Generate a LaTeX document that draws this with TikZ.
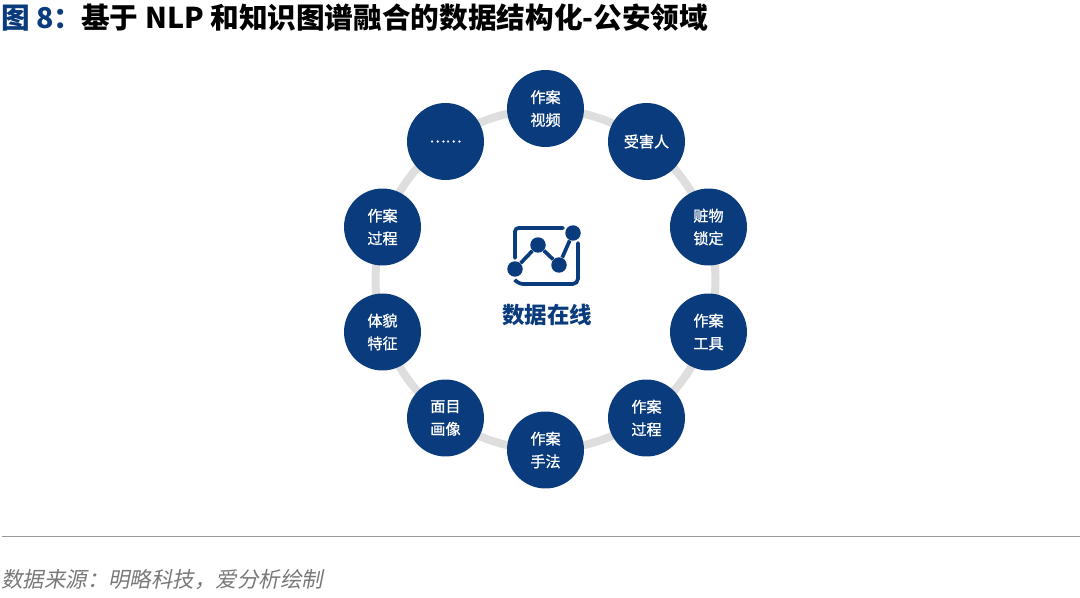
\documentclass[tikz,border=0pt]{standalone}
\usepackage{fontspec}
\usepackage{xcolor}
\usepackage{tikz}
\usetikzlibrary{positioning,calc}
\setmainfont{Noto Sans CJK SC}
\newfontfamily\mediumfont[FakeBold=1]{Noto Sans CJK SC}
\newfontfamily\slantfont[FakeSlant=0.2]{Noto Sans CJK SC}
\definecolor{accentnavy}{RGB}{10,59,124}
\definecolor{ringgray}{RGB}{222,222,222}
\definecolor{notegray}{RGB}{120,120,120}
\tikzset{
    bubble/.style={circle,fill=accentnavy,text=white,minimum size=1.54cm,inner sep=0pt,
        align=center,font=\fontsize{8.6pt}{12.9pt}\mediumfont},
    icondot/.style={circle,fill=accentnavy,inner sep=0pt,minimum size=#1},
    iconline/.style={draw=accentnavy,line width=2.1pt},
    ring/.style={circle,draw=ringgray,line width=4.6pt,minimum size=6.8cm,inner sep=0pt}
}

\begin{document}
\begin{tikzpicture}[x=0.02cm,y=-0.02cm]
    \useasboundingbox (0,0) rectangle (1080,598);
    \node[anchor=west,inner sep=0pt,text=accentnavy,font=\fontsize{16.3pt}{18pt}\selectfont\bfseries] (fignum) at (1,18) {图 8：};
    \node[anchor=west,inner sep=0pt,font=\fontsize{16.3pt}{18pt}\selectfont\bfseries] (figtitle) at (81,18) {基于 NLP 和知识图谱融合的数据结构化-公安领域};

    \node[ring] (loop) at (545.5,279.5) {};
    \foreach \name/\px/\py/\txt in {a/545.5/108.5/{作案\\视频},b/646.5/141.5/{受害人},c/708.5/227/{赃物\\锁定},
        d/708.5/332/{作案\\工具},e/646.5/418/{作案\\过程},f/545.5/450/{作案\\手法},g/445.5/418/{面目\\画像},
        h/382.5/332/{体貌\\特征},i/382.5/227/{作案\\过程},j/445.5/141.5/{……}}
        \node[bubble] (\name) at (\px,\py) {\txt};

    % chart icon in the middle
    \draw[iconline,rounded corners=2pt,line cap=round] (563,228) -- (515,228) -- (515,258);
    \draw[iconline,rounded corners=3pt,line cap=round] (515,280) -- (518,284) -- (578,284) -- (578,243);
    \node[icondot=0.31cm] (p1) at (515,269) {};
    \node[icondot=0.31cm] (p2) at (538,245) {};
    \node[icondot=0.31cm] (p3) at (559,265) {};
    \node[icondot=0.31cm] (p4) at (573,233) {};
    \draw[iconline] (p1) -- (p2) -- (p3) -- (p4);
    \node[text=accentnavy,font=\fontsize{12.8pt}{14pt}\selectfont\bfseries] (center) at (547,315) {数据在线};

    \coordinate (ruleL) at (2,536);
    \coordinate (ruleR) at (1080,536);
    \draw[draw=gray!80,line width=0.5pt] (ruleL) -- (ruleR);
    \node[anchor=west,inner sep=0pt,text=notegray,font=\fontsize{12.2pt}{14pt}\slantfont] (source) at (1,580) {数据来源：明略科技，爱分析绘制};
\end{tikzpicture}
\end{document}
